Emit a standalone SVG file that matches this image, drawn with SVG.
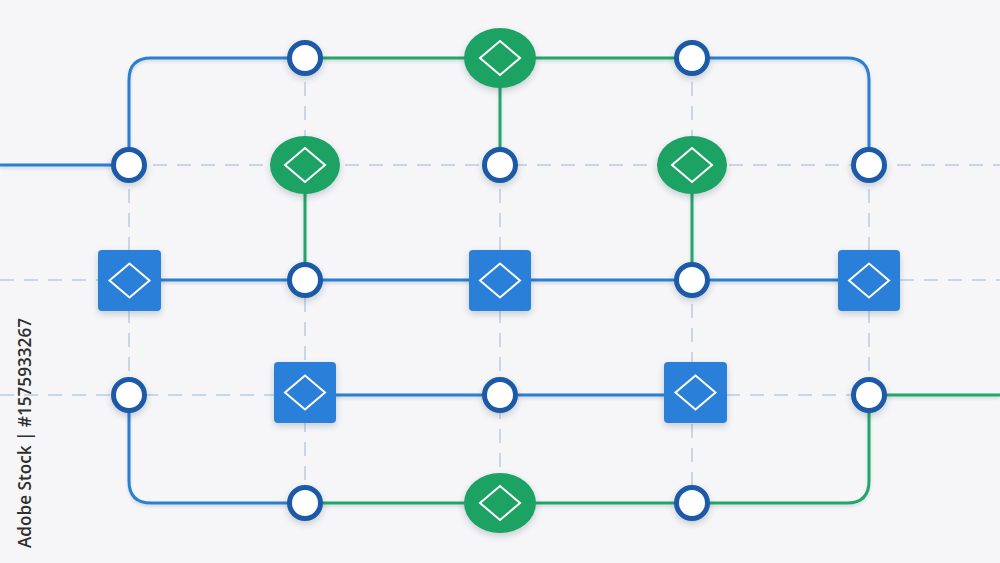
<svg xmlns="http://www.w3.org/2000/svg" width="1000" height="563" viewBox="0 0 1000 563">
<defs>
<filter id="sh" x="-30%" y="-30%" width="160%" height="170%">
<feDropShadow dx="0" dy="3" stdDeviation="3" flood-color="#1a3050" flood-opacity="0.22"/>
</filter>
<filter id="lsh" x="-5%" y="-20%" width="110%" height="140%">
<feDropShadow dx="0" dy="2" stdDeviation="1.5" flood-color="#1a3050" flood-opacity="0.15"/>
</filter>
<g id="dia"><path d="M-20 0 L0 -17 L20 0 L0 17 Z" fill="none" stroke="#ffffff" stroke-width="2"/></g>
</defs>
<style>
.guide{fill:none;stroke:#c9d6e8;stroke-width:2;stroke-dasharray:14 10}
.blue{fill:none;stroke:#2a7fd0;stroke-width:3}
.green{fill:none;stroke:#22a66a;stroke-width:3}
.port{fill:#ffffff;stroke:#1a5aa8;stroke-width:5}
.gate{fill:#1fa264}
.box{fill:#2b80d8}
.id{font-family:"Open Sans","Liberation Sans",sans-serif;font-size:18px;font-weight:600;fill:#2e2e2e}
</style>
<rect width="1000" height="563" fill="#f6f6f8"/>
<g id="guides">
<path class="guide" d="M129 165 H1000"/>
<path class="guide" d="M0 280 H98 M900 280 H1000"/>
<path class="guide" d="M0 395 H274 M726 395 H869"/>
<path class="guide" d="M129 165 V395"/>
<path class="guide" d="M305 58 V503"/>
<path class="guide" d="M500 165 V503"/>
<path class="guide" d="M692 58 V165 M692 280 V503"/>
<path class="guide" d="M869 165 V395"/>
</g>
<g id="connectors" filter="url(#lsh)">
<path class="blue" d="M0 165 H113"/>
<path class="blue" d="M129 165 V80 Q129 58 151 58 H305"/>
<path class="green" d="M305 58 H692"/>
<path class="blue" d="M692 58 H847 Q869 58 869 80 V165"/>
<path class="green" d="M500 58 V165"/>
<path class="green" d="M305 165 V280"/>
<path class="green" d="M692 165 V280"/>
<path class="blue" d="M129 280 H869"/>
<path class="blue" d="M305 395 H694"/>
<path class="green" d="M869 395 H1000"/>
<path class="blue" d="M129 395 V481 Q129 503 151 503 H305"/>
<path class="green" d="M305 503 H847 Q869 503 869 481 V395"/>
</g>
<g id="n-r1-a" filter="url(#sh)"><circle class="port" cx="305" cy="58" r="15.5"/></g>
<g id="n-r1-b" filter="url(#sh)"><ellipse class="gate" cx="500" cy="58" rx="36" ry="30"/><use href="#dia" x="500" y="58"/></g>
<g id="n-r1-c" filter="url(#sh)"><circle class="port" cx="692" cy="58" r="15.5"/></g>
<g id="n-r2-a" filter="url(#sh)"><circle class="port" cx="129" cy="165" r="15.5"/></g>
<g id="n-r2-b" filter="url(#sh)"><ellipse class="gate" cx="305" cy="165" rx="35" ry="29"/><use href="#dia" x="305" y="165"/></g>
<g id="n-r2-c" filter="url(#sh)"><circle class="port" cx="500" cy="165" r="15.5"/></g>
<g id="n-r2-d" filter="url(#sh)"><ellipse class="gate" cx="692" cy="165" rx="35" ry="29"/><use href="#dia" x="692" y="165"/></g>
<g id="n-r2-e" filter="url(#sh)"><circle class="port" cx="869" cy="165" r="15.5"/></g>
<g id="n-r3-a" filter="url(#sh)"><rect class="box" x="98" y="250" width="63" height="61" rx="4"/><use href="#dia" x="129.5" y="280.5"/></g>
<g id="n-r3-b" filter="url(#sh)"><circle class="port" cx="305" cy="280" r="15.5"/></g>
<g id="n-r3-c" filter="url(#sh)"><rect class="box" x="469" y="250" width="62" height="61" rx="4"/><use href="#dia" x="500" y="280.5"/></g>
<g id="n-r3-d" filter="url(#sh)"><circle class="port" cx="692" cy="280" r="15.5"/></g>
<g id="n-r3-e" filter="url(#sh)"><rect class="box" x="838" y="250" width="62" height="61" rx="4"/><use href="#dia" x="869" y="280.5"/></g>
<g id="n-r4-a" filter="url(#sh)"><circle class="port" cx="129" cy="395" r="15.5"/></g>
<g id="n-r4-b" filter="url(#sh)"><rect class="box" x="274" y="362" width="62" height="61" rx="4"/><use href="#dia" x="305" y="392.5"/></g>
<g id="n-r4-c" filter="url(#sh)"><circle class="port" cx="500" cy="395" r="15.5"/></g>
<g id="n-r4-d" filter="url(#sh)"><rect class="box" x="664" y="362" width="63" height="61" rx="4"/><use href="#dia" x="695.5" y="392.5"/></g>
<g id="n-r4-e" filter="url(#sh)"><circle class="port" cx="869" cy="395" r="15.5"/></g>
<g id="n-r5-a" filter="url(#sh)"><circle class="port" cx="305" cy="503" r="15.5"/></g>
<g id="n-r5-b" filter="url(#sh)"><ellipse class="gate" cx="500" cy="503" rx="36" ry="30"/><use href="#dia" x="500" y="503"/></g>
<g id="n-r5-c" filter="url(#sh)"><circle class="port" cx="692" cy="503" r="15.5"/></g>
<text class="id" transform="translate(30.500 548) rotate(-90)" textLength="230" lengthAdjust="spacingAndGlyphs">Adobe Stock | #1575933267</text>
</svg>
